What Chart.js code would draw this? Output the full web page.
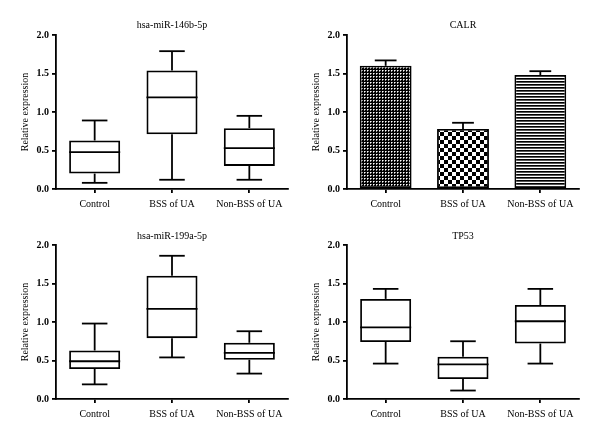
<!DOCTYPE html>
<html>
<head>
<meta charset="utf-8">
<script src="https://cdn.jsdelivr.net/npm/chart.js@4.4.0/dist/chart.umd.min.js"></script>
<style>
  html, body { margin: 0; padding: 0; background: #fff; }
  #wrap { position: relative; width: 600px; height: 440px; }
  #wrap canvas { position: absolute; }
</style>
</head>
<body>
<div id="wrap">
  <canvas id="mir146" width="300" height="220" style="left:0;top:0"></canvas>
  <canvas id="calr" width="300" height="220" style="left:300px;top:0"></canvas>
  <canvas id="mir199" width="300" height="220" style="left:0;top:220px"></canvas>
  <canvas id="tp53" width="300" height="220" style="left:300px;top:220px"></canvas>
</div>
<script>
const categories = ['Control', 'BSS of UA', 'Non-BSS of UA'];
const yTicks = [0, 0.5, 1.0, 1.5, 2.0];

// hsa-miR-146b-5p box plot
const mir146Min = [0.08, 0.12, 0.12];
const mir146Q1 = [0.20, 0.71, 0.30];
const mir146Median = [0.48, 1.19, 0.53];
const mir146Q3 = [0.63, 1.54, 0.79];
const mir146Max = [0.89, 1.79, 0.95];

// CALR mean + error
const calrMean = [1.60, 0.78, 1.48];
const calrError = [0.07, 0.08, 0.05];

// hsa-miR-199a-5p box plot
const mir199Min = [0.19, 0.54, 0.33];
const mir199Q1 = [0.39, 0.79, 0.51];
const mir199Median = [0.49, 1.17, 0.60];
const mir199Q3 = [0.63, 1.60, 0.73];
const mir199Max = [0.98, 1.86, 0.88];

// TP53 box plot
const tp53Min = [0.46, 0.11, 0.46];
const tp53Q1 = [0.74, 0.26, 0.72];
const tp53Median = [0.93, 0.45, 1.01];
const tp53Q3 = [1.30, 0.55, 1.22];
const tp53Max = [1.43, 0.75, 1.43];

const serif = '"Liberation Serif", "DejaVu Serif", serif';
const lw = 1.8;

function makePattern(w, h, paint) {
  const c = document.createElement('canvas');
  c.width = w; c.height = h;
  const g = c.getContext('2d');
  g.fillStyle = '#fff'; g.fillRect(0, 0, w, h);
  g.fillStyle = '#000';
  paint(g);
  return g.createPattern(c, 'repeat');
}
const finePattern = makePattern(3, 3, g => {
  g.fillRect(0, 0, 3, 3);
  g.fillStyle = '#fff'; g.fillRect(1, 1, 1, 1);
  g.fillStyle = '#999'; g.fillRect(2, 1, 1, 1); g.fillRect(1, 2, 1, 1);
});
const checkPattern = makePattern(8, 8, g => { g.fillRect(0, 0, 4, 4); g.fillRect(4, 4, 4, 4); });
const stripePattern = makePattern(4, 3, g => { g.fillRect(0, 0, 4, 1); g.fillStyle = '#555'; g.fillRect(0, 1, 4, 1); });

// whiskers, medians and error caps, placed with the chart's own y scale
const whiskerPlugin = {
  id: 'whiskers',
  afterDatasetsDraw(chart) {
    const ds = chart.data.datasets[0];
    const w = ds.whisker;
    if (!w) return;
    const meta = chart.getDatasetMeta(0);
    const y = chart.scales.y;
    const ctx = chart.ctx;
    const line = (x1, y1, x2, y2) => { ctx.beginPath(); ctx.moveTo(x1, y1); ctx.lineTo(x2, y2); ctx.stroke(); };
    ctx.save();
    ctx.strokeStyle = '#000';
    ctx.lineWidth = lw;
    meta.data.forEach((bar, i) => {
      const x = bar.x, half = bar.width / 2, cap = half * w.cap;
      if (w.median) {
        const ym = y.getPixelForValue(w.median[i]);
        line(x - half, ym, x + half, ym);
      }
      if (w.upper) {
        const a = y.getPixelForValue(w.upperFrom[i]), b = y.getPixelForValue(w.upper[i]);
        line(x, a, x, b); line(x - cap, b, x + cap, b);
      }
      if (w.lower) {
        const a = y.getPixelForValue(w.lowerFrom[i]), b = y.getPixelForValue(w.lower[i]);
        line(x, a, x, b); line(x - cap, b, x + cap, b);
      }
    });
    ctx.restore();
  }
};

function makeChart(id, title, dataset, opt) {
  return new Chart(document.getElementById(id), {
    type: 'bar',
    data: { labels: categories, datasets: [dataset] },
    options: {
      responsive: false,
      animation: false,
      layout: { padding: { left: 0, right: opt.right, top: 0, bottom: 0 } },
      plugins: {
        legend: { display: false },
        tooltip: { enabled: false },
        title: {
          display: true, text: title, color: '#000', fullSize: false,
          font: { family: serif, size: 10, weight: 'normal', lineHeight: 1.2 },
          padding: { top: opt.titleTop, bottom: opt.titleBottom }
        }
      },
      scales: {
        x: {
          afterFit: s => { s.height = opt.xHeight; },
          grid: { offset: false, drawOnChartArea: false, drawTicks: true, tickLength: 4, color: '#000', lineWidth: lw },
          border: { display: true, color: '#000', width: lw },
          ticks: { color: '#000', padding: 5, font: { family: serif, size: 10 } }
        },
        y: {
          min: 0, max: 2,
          afterFit: s => { s.width = opt.yWidth; },
          afterBuildTicks: s => { s.ticks = yTicks.map(v => ({ value: v })); },
          grid: { drawOnChartArea: false, drawTicks: true, tickLength: 4, color: '#000', lineWidth: lw },
          border: { display: true, color: '#000', width: lw },
          ticks: { color: '#000', padding: 3, font: { family: serif, size: 10, weight: 'bold' }, callback: v => Number(v).toFixed(1) },
          title: { display: true, text: 'Relative expression', color: '#000', font: { family: serif, size: 10, lineHeight: 1.2 }, padding: { top: opt.yTitle, bottom: 0 } }
        }
      }
    },
    plugins: [whiskerPlugin]
  });
}

function boxDataset(min, q1, median, q3, max) {
  return {
    data: q1.map((v, i) => [v, q3[i]]),
    backgroundColor: 'rgba(255,255,255,0)',
    borderColor: '#000',
    borderWidth: lw,
    borderSkipped: false,
    barPercentage: 0.66,
    categoryPercentage: 1,
    whisker: { cap: 0.5, median: median, upperFrom: q3, upper: max, lowerFrom: q1, lower: min }
  };
}

const topLeft = { right: 12, titleTop: 19, titleBottom: 4, xHeight: 31, yWidth: 56, yTitle: 19 };
const topRight = { right: 21, titleTop: 19, titleBottom: 4, xHeight: 31, yWidth: 47, yTitle: 10 };
const botLeft = { right: 12, titleTop: 10, titleBottom: 3, xHeight: 41, yWidth: 56, yTitle: 19 };
const botRight = { right: 21, titleTop: 10, titleBottom: 3, xHeight: 41, yWidth: 47, yTitle: 10 };

makeChart('mir146', 'hsa-miR-146b-5p', boxDataset(mir146Min, mir146Q1, mir146Median, mir146Q3, mir146Max), topLeft);

makeChart('calr', 'CALR', {
  data: calrMean,
  backgroundColor: [finePattern, checkPattern, stripePattern],
  borderColor: '#000',
  borderWidth: lw,
  borderSkipped: false,
  barPercentage: 0.67,
  categoryPercentage: 1,
  whisker: { cap: 0.42, upperFrom: calrMean, upper: calrMean.map((m, i) => m + calrError[i]) }
}, topRight);

makeChart('mir199', 'hsa-miR-199a-5p', boxDataset(mir199Min, mir199Q1, mir199Median, mir199Q3, mir199Max), botLeft);
makeChart('tp53', 'TP53', boxDataset(tp53Min, tp53Q1, tp53Median, tp53Q3, tp53Max), botRight);
</script>
</body>
</html>
